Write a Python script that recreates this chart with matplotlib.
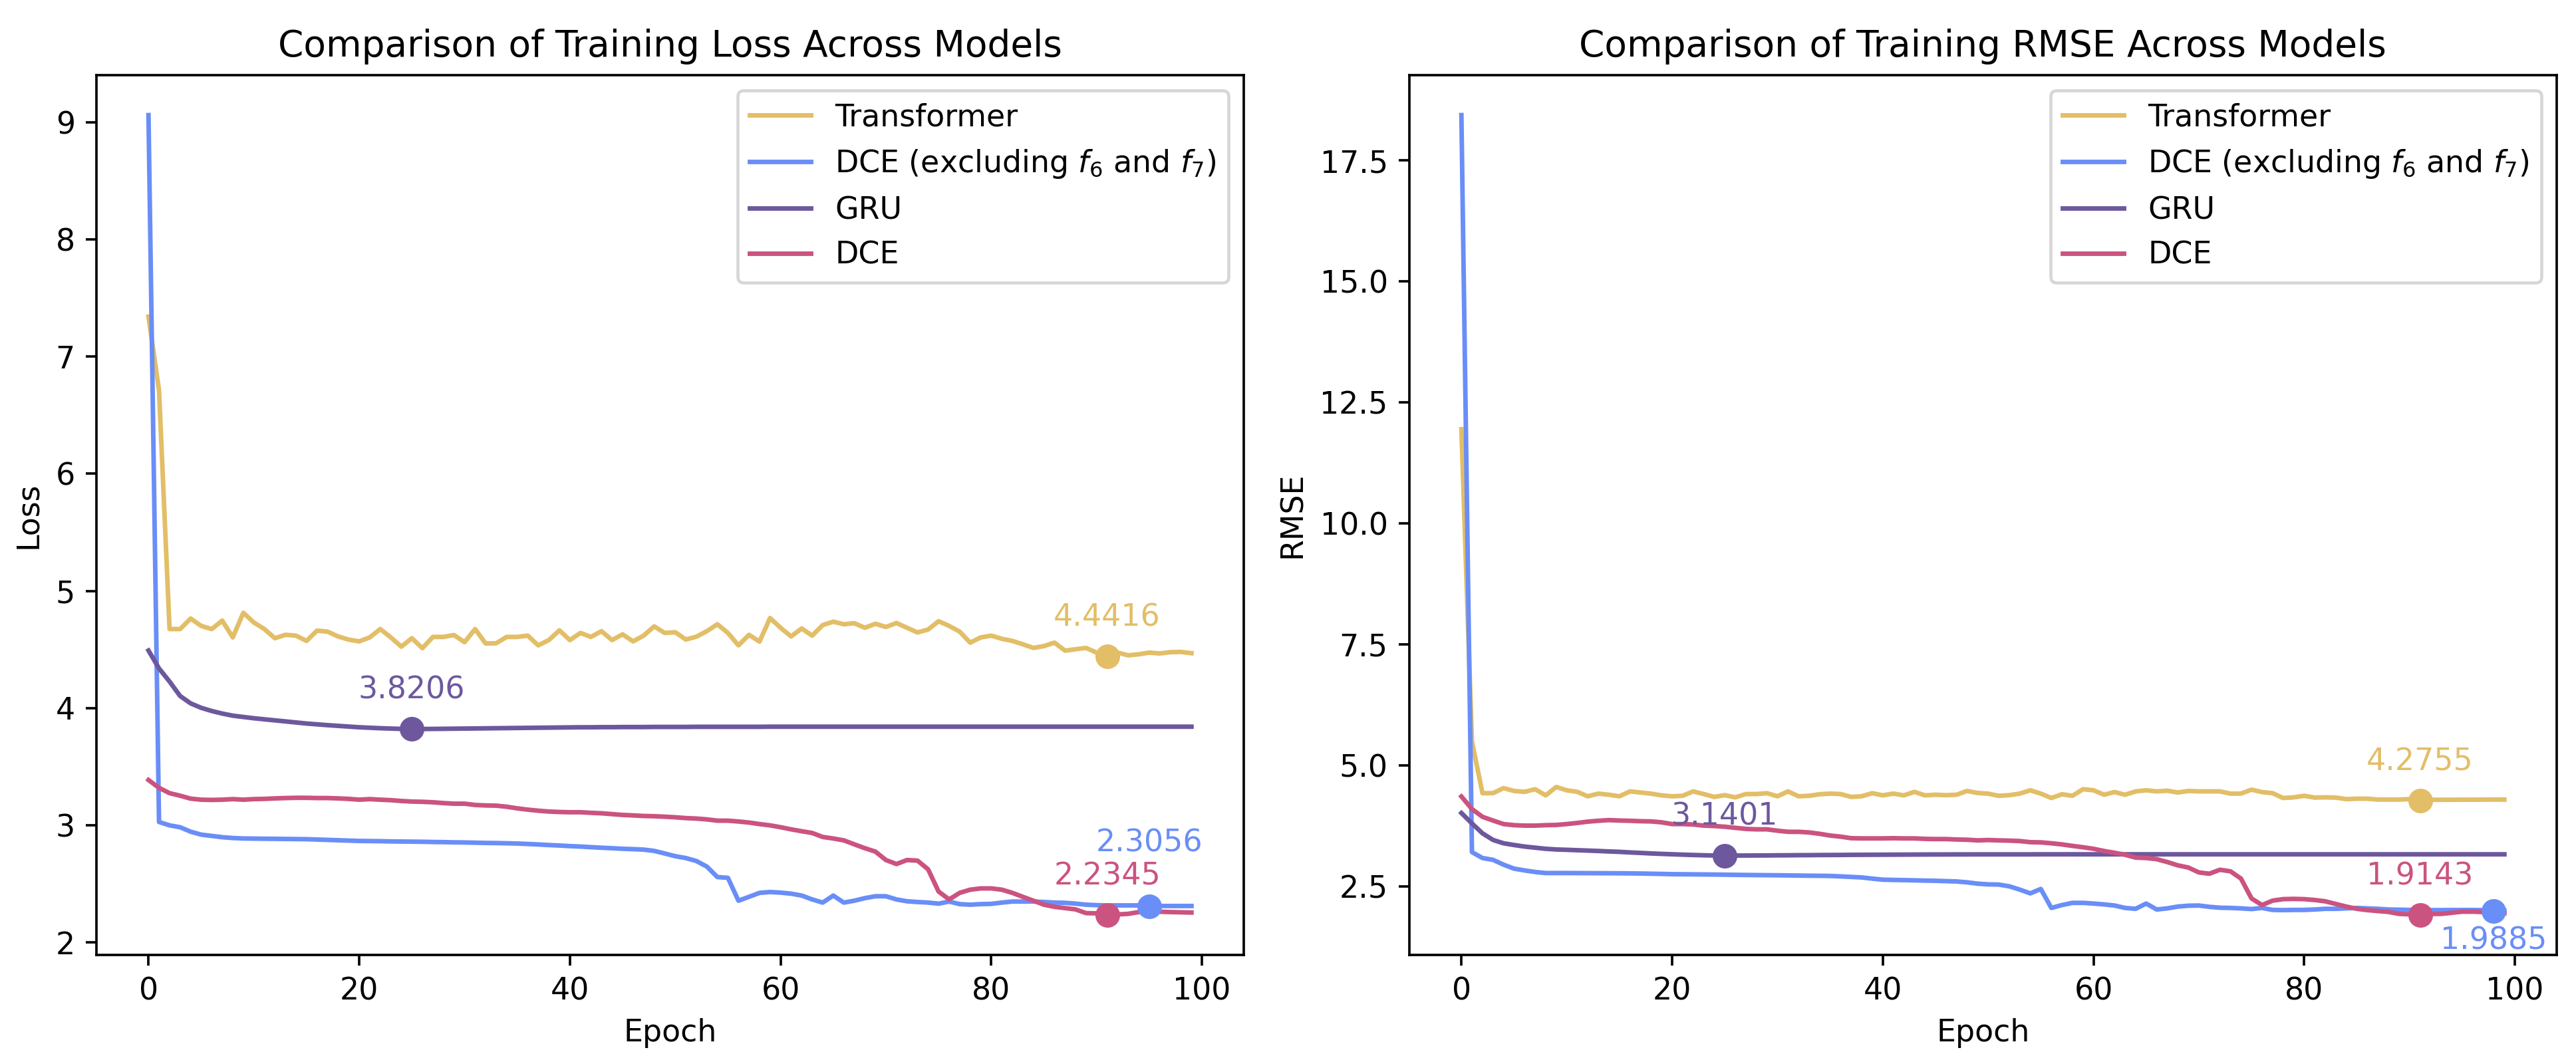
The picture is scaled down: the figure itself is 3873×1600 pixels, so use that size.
import matplotlib
matplotlib.use("Agg")
import matplotlib.pyplot as plt
import numpy as np

epochs = list(range(100))

labels = ["Transformer", r"DCE (excluding $f_6$ and $f_7$)", "GRU", "DCE"]
colors = ["#E2BE67", "#6A8EF7", "#6D589E", "#CB5380"]

trans_loss = [7.34, 6.71, 4.674, 4.674, 4.764, 4.701, 4.674, 4.746, 4.603, 4.813,
              4.730, 4.674, 4.596, 4.625, 4.618, 4.573, 4.661, 4.652, 4.611, 4.584,
              4.569, 4.603, 4.674, 4.603, 4.524, 4.596, 4.511, 4.607, 4.607, 4.623,
              4.562, 4.674, 4.551, 4.553, 4.607, 4.607, 4.618, 4.535, 4.580, 4.663,
              4.580, 4.641, 4.607, 4.656, 4.580, 4.629, 4.569, 4.618, 4.697, 4.641,
              4.647, 4.585, 4.609, 4.656, 4.715, 4.641, 4.535, 4.625, 4.567, 4.768,
              4.685, 4.611, 4.679, 4.618, 4.708, 4.737, 4.715, 4.724, 4.685, 4.719,
              4.692, 4.726, 4.685, 4.645, 4.670, 4.741, 4.701, 4.652, 4.558, 4.603,
              4.618, 4.591, 4.573, 4.544, 4.513, 4.529, 4.558, 4.490, 4.502, 4.513,
              4.473, 4.4416, 4.473, 4.450, 4.459, 4.473, 4.466, 4.477, 4.479, 4.468]

dcex_loss = [9.06, 3.028, 2.999, 2.983, 2.945, 2.920, 2.909, 2.898, 2.891, 2.887,
             2.886, 2.885, 2.884, 2.883, 2.882, 2.881, 2.878, 2.875, 2.872, 2.869,
             2.866, 2.865, 2.864, 2.862, 2.861, 2.860, 2.859, 2.857, 2.856, 2.854,
             2.853, 2.851, 2.849, 2.848, 2.846, 2.844, 2.840, 2.836, 2.831, 2.827,
             2.822, 2.818, 2.813, 2.808, 2.804, 2.799, 2.796, 2.792, 2.781, 2.759,
             2.736, 2.720, 2.695, 2.647, 2.558, 2.551, 2.356, 2.389, 2.423, 2.430,
             2.425, 2.416, 2.400, 2.367, 2.340, 2.400, 2.340, 2.356, 2.378, 2.394,
             2.394, 2.367, 2.351, 2.345, 2.340, 2.331, 2.349, 2.327, 2.322, 2.327,
             2.329, 2.340, 2.349, 2.349, 2.349, 2.345, 2.340, 2.338, 2.331, 2.322,
             2.318, 2.316, 2.316, 2.316, 2.316, 2.3056, 2.311, 2.311, 2.311, 2.311]

gru_loss = [4.491, 4.338, 4.226, 4.103, 4.040, 4.002, 3.975, 3.953, 3.935, 3.924,
            3.913, 3.904, 3.895, 3.886, 3.877, 3.868, 3.861, 3.854, 3.848, 3.842,
            3.836, 3.832, 3.828, 3.825, 3.822, 3.8206, 3.8212, 3.822, 3.823, 3.824,
            3.825, 3.826, 3.827, 3.828, 3.829, 3.830, 3.831, 3.832, 3.833, 3.834,
            3.835, 3.836, 3.836, 3.837, 3.837, 3.838, 3.838, 3.838, 3.839, 3.839,
            3.839, 3.839, 3.840, 3.840, 3.840, 3.840, 3.840, 3.840, 3.840, 3.841,
            3.841, 3.841, 3.841, 3.841, 3.841, 3.841, 3.841, 3.841, 3.841, 3.841,
            3.841, 3.841, 3.841, 3.841, 3.841, 3.841, 3.841, 3.841, 3.841, 3.841,
            3.841, 3.841, 3.841, 3.841, 3.841, 3.841, 3.841, 3.841, 3.841, 3.841,
            3.841, 3.841, 3.841, 3.841, 3.841, 3.841, 3.841, 3.841, 3.841, 3.841]

dce_loss = [3.386, 3.319, 3.274, 3.252, 3.227, 3.218, 3.216, 3.218, 3.223, 3.218,
            3.223, 3.225, 3.229, 3.232, 3.234, 3.234, 3.232, 3.232, 3.229, 3.225,
            3.218, 3.223, 3.218, 3.214, 3.207, 3.202, 3.200, 3.196, 3.189, 3.184,
            3.184, 3.173, 3.169, 3.167, 3.158, 3.144, 3.133, 3.124, 3.117, 3.113,
            3.111, 3.111, 3.106, 3.102, 3.095, 3.088, 3.084, 3.079, 3.077, 3.073,
            3.068, 3.061, 3.057, 3.050, 3.039, 3.039, 3.032, 3.023, 3.010, 2.999,
            2.983, 2.965, 2.949, 2.934, 2.900, 2.887, 2.871, 2.837, 2.804, 2.775,
            2.703, 2.669, 2.703, 2.698, 2.624, 2.434, 2.367, 2.423, 2.450, 2.461,
            2.461, 2.450, 2.423, 2.389, 2.356, 2.322, 2.304, 2.293, 2.282, 2.250,
            2.248, 2.2345, 2.239, 2.244, 2.259, 2.266, 2.262, 2.259, 2.257, 2.255]

trans_rmse = [11.95, 5.50, 4.430, 4.430, 4.535, 4.476, 4.458, 4.512, 4.385, 4.558,
              4.490, 4.458, 4.366, 4.421, 4.398, 4.366, 4.467, 4.444, 4.421, 4.385,
              4.366, 4.376, 4.467, 4.412, 4.353, 4.389, 4.344, 4.412, 4.412, 4.430,
              4.366, 4.467, 4.366, 4.376, 4.408, 4.421, 4.412, 4.353, 4.366, 4.430,
              4.385, 4.421, 4.385, 4.458, 4.385, 4.398, 4.389, 4.398, 4.476, 4.435,
              4.420, 4.376, 4.389, 4.421, 4.490, 4.421, 4.330, 4.408, 4.376, 4.512,
              4.490, 4.398, 4.453, 4.398, 4.467, 4.490, 4.467, 4.481, 4.444, 4.476,
              4.467, 4.467, 4.467, 4.421, 4.421, 4.503, 4.453, 4.430, 4.330, 4.344,
              4.376, 4.339, 4.344, 4.339, 4.307, 4.316, 4.316, 4.298, 4.298, 4.298,
              4.307, 4.2755, 4.294, 4.294, 4.294, 4.296, 4.296, 4.297, 4.298, 4.298]

dcex_rmse = [18.44, 3.213, 3.090, 3.053, 2.953, 2.871, 2.834, 2.802, 2.780, 2.780,
             2.780, 2.779, 2.778, 2.777, 2.776, 2.775, 2.773, 2.770, 2.766, 2.762,
             2.757, 2.755, 2.753, 2.751, 2.749, 2.746, 2.743, 2.740, 2.738, 2.736,
             2.734, 2.731, 2.728, 2.725, 2.723, 2.720, 2.711, 2.700, 2.689, 2.665,
             2.643, 2.638, 2.634, 2.629, 2.624, 2.620, 2.613, 2.606, 2.588, 2.561,
             2.546, 2.542, 2.506, 2.438, 2.360, 2.451, 2.059, 2.118, 2.164, 2.164,
             2.150, 2.132, 2.109, 2.059, 2.041, 2.150, 2.027, 2.050, 2.087, 2.105,
             2.109, 2.082, 2.064, 2.059, 2.050, 2.036, 2.059, 2.018, 2.014, 2.018,
             2.018, 2.027, 2.041, 2.041, 2.050, 2.059, 2.050, 2.041, 2.027, 2.023,
             2.018, 2.014, 2.014, 2.014, 2.016, 2.016, 2.016, 2.014, 1.9885, 2.005]

gru_rmse = [4.020, 3.806, 3.601, 3.464, 3.395, 3.359, 3.327, 3.304, 3.281, 3.267,
            3.260, 3.252, 3.244, 3.236, 3.226, 3.218, 3.206, 3.196, 3.185, 3.176,
            3.168, 3.160, 3.153, 3.147, 3.143, 3.1401, 3.141, 3.142, 3.143, 3.144,
            3.146, 3.147, 3.149, 3.150, 3.152, 3.153, 3.154, 3.156, 3.157, 3.158,
            3.159, 3.160, 3.161, 3.162, 3.163, 3.164, 3.164, 3.165, 3.165, 3.166,
            3.166, 3.166, 3.166, 3.166, 3.166, 3.167, 3.167, 3.167, 3.167, 3.167,
            3.167, 3.167, 3.167, 3.167, 3.167, 3.167, 3.167, 3.167, 3.167, 3.167,
            3.167, 3.167, 3.167, 3.167, 3.167, 3.167, 3.167, 3.167, 3.167, 3.167,
            3.167, 3.167, 3.167, 3.167, 3.167, 3.167, 3.167, 3.167, 3.167, 3.167,
            3.167, 3.167, 3.167, 3.167, 3.167, 3.167, 3.167, 3.167, 3.167, 3.167]

dce_rmse = [4.362, 4.102, 3.942, 3.865, 3.792, 3.769, 3.760, 3.760, 3.769, 3.774,
            3.792, 3.815, 3.842, 3.860, 3.874, 3.865, 3.860, 3.851, 3.847, 3.828,
            3.792, 3.792, 3.783, 3.760, 3.751, 3.737, 3.714, 3.692, 3.683, 3.683,
            3.655, 3.632, 3.632, 3.619, 3.591, 3.555, 3.532, 3.500, 3.496, 3.496,
            3.496, 3.500, 3.496, 3.496, 3.486, 3.482, 3.482, 3.473, 3.468, 3.455,
            3.462, 3.455, 3.450, 3.441, 3.418, 3.414, 3.395, 3.372, 3.341, 3.313,
            3.281, 3.236, 3.199, 3.158, 3.099, 3.090, 3.067, 3.008, 2.939, 2.894,
            2.793, 2.766, 2.848, 2.816, 2.666, 2.255, 2.118, 2.210, 2.241, 2.246,
            2.241, 2.223, 2.196, 2.141, 2.087, 2.041, 2.014, 1.995, 1.977, 1.936,
            1.927, 1.9143, 1.936, 1.936, 1.959, 1.982, 1.982, 1.973, 1.959, 1.950]

loss_series = [trans_loss, dcex_loss, gru_loss, dce_loss]
rmse_series = [trans_rmse, dcex_rmse, gru_rmse, dce_rmse]

# annotation offsets in points (x, y) and vertical alignment per series
loss_offsets = [(0, 10), (0, 18), (0, 10), (0, 10)]
rmse_offsets = [(0, 10), (0, -12.5), (0, 10), (0, 10)]

dpi = 330
fig, axes = plt.subplots(1, 2, figsize=(11.7367, 4.8486), dpi=dpi)
fig.subplots_adjust(left=0.0374, right=0.9924, bottom=0.1025, top=0.9294, wspace=0.1444)


def draw(ax, series, offsets, title, ylabel):
    for vals, lab, col, off in zip(series, labels, colors, offsets):
        ax.plot(epochs, vals, color=col, label=lab, linewidth=1.5)
    for vals, col, off in zip(series, colors, offsets):
        i = int(np.argmin(vals))
        v = vals[i]
        ax.scatter([epochs[i]], [v], color=col, s=50, zorder=5)
        ax.annotate(f"{v:.4f}", (epochs[i], v), xytext=off, textcoords="offset points",
                    ha="center", va="baseline", color=col, fontsize=10)
    ax.set_title(title, fontsize=12)
    ax.set_xlabel("Epoch")
    ax.set_ylabel(ylabel)
    ax.legend(loc="upper right")


draw(axes[0], loss_series, loss_offsets, "Comparison of Training Loss Across Models", "Loss")
draw(axes[1], rmse_series, rmse_offsets, "Comparison of Training RMSE Across Models", "RMSE")

fig.savefig("out.png", dpi=dpi)
